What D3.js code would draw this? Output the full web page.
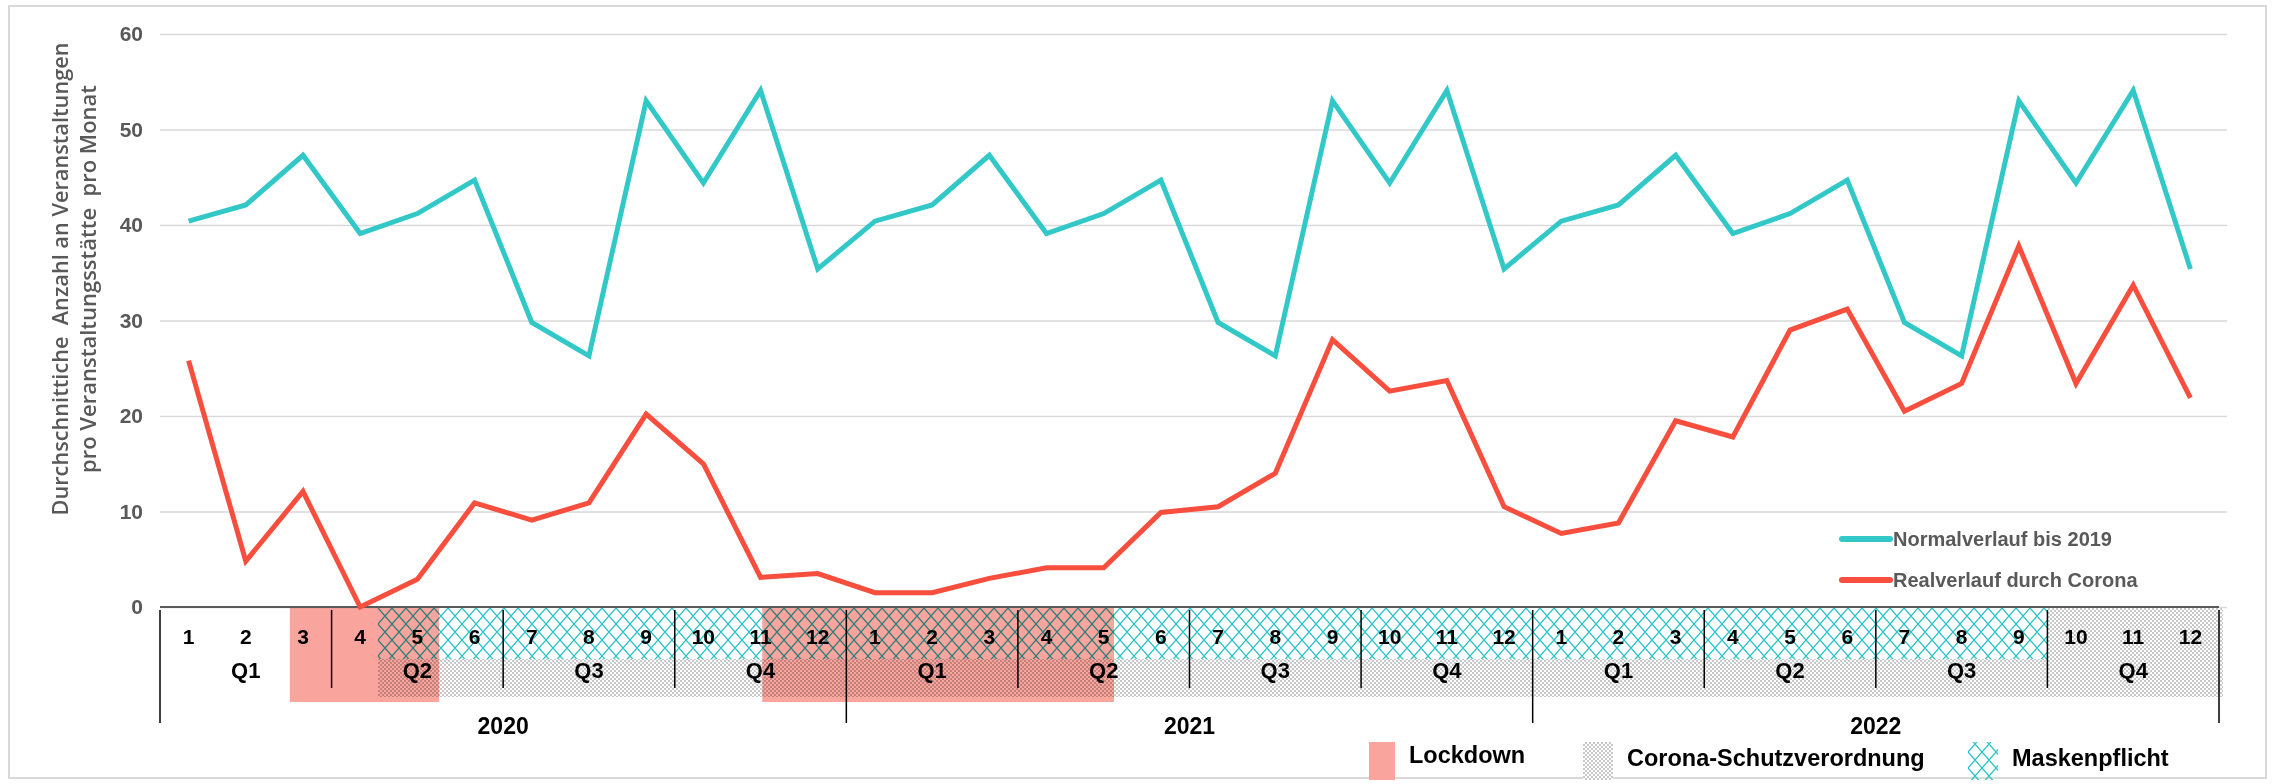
<!DOCTYPE html>
<head>
  <meta charset="utf-8">
  <script src="https://d3js.org/d3.v7.min.js"></script>
  <style>
    body { margin: 0; background: #fff; }
    text {
      font-family: "Liberation Sans", Arial, sans-serif;
      font-weight: bold;
    }
  </style>
</head>

<body>
  <script>
  // monthly values, Jan 2020 .. Dec 2022
  var normalverlauf = [40.4, 42.1, 47.3, 39.1, 41.2, 44.7, 29.8, 26.3, 53.0, 44.4, 54.1, 35.4,
                       40.4, 42.1, 47.3, 39.1, 41.2, 44.7, 29.8, 26.3, 53.0, 44.4, 54.1, 35.4,
                       40.4, 42.1, 47.3, 39.1, 41.2, 44.7, 29.8, 26.3, 53.0, 44.4, 54.1, 35.4];
  var realverlauf = [25.8, 4.8, 12.1, 0, 2.9, 10.9, 9.1, 10.9, 20.2, 15.0, 3.1, 3.5,
                     1.5, 1.5, 3.0, 4.1, 4.1, 9.9, 10.5, 14.0, 28.0, 22.6, 23.7, 10.5,
                     7.7, 8.8, 19.5, 17.8, 29.0, 31.2, 20.5, 23.4, 37.8, 23.4, 33.7, 21.9];

  var monthLabels = ["1", "2", "3", "4", "5", "6", "7", "8", "9", "10", "11", "12"];
  var quarterLabels = ["Q1", "Q2", "Q3", "Q4"];
  var yearLabels = ["2020", "2021", "2022"];

  // periods in month units from Jan 2020 (start, end)
  var lockdown = [[2.27, 4.88], [10.53, 16.68]];
  var schutzverordnung = [[3.81, 36.07]];
  var maskenpflicht = [[3.81, 33]];

  var seriesNames = ["Normalverlauf bis 2019", "Realverlauf durch Corona"];
  var legendNames = ["Lockdown", "Corona-Schutzverordnung", "Maskenpflicht"];

  var teal = "#33c8c8", red = "#f74e3e", pink = "#f9a59e", hatchCol = "#2cc4c4";

  var width = 2275, height = 784;

  var svg = d3.select("body").append("svg")
      .attr("width", width)
      .attr("height", height);

  svg.append("rect")
      .attr("x", 9).attr("y", 6)
      .attr("width", 2257).attr("height", 772)
      .attr("fill", "none")
      .attr("stroke", "#d9d9d9")
      .attr("stroke-width", 2);

  var defs = svg.append("defs");

  var dots = defs.append("pattern")
      .attr("id", "dots")
      .attr("patternUnits", "userSpaceOnUse")
      .attr("width", 4).attr("height", 4);
  dots.append("rect").attr("width", 4).attr("height", 4).attr("fill", "#fff");
  dots.append("rect").attr("width", 2).attr("height", 2).attr("fill", "#c8c8c8");
  dots.append("rect").attr("x", 2).attr("y", 2).attr("width", 2).attr("height", 2).attr("fill", "#c8c8c8");

  var hatch = defs.append("pattern")
      .attr("id", "hatch")
      .attr("patternUnits", "userSpaceOnUse")
      .attr("width", 14).attr("height", 16);
  hatch.append("path")
      .attr("d", "M-1,-1.14L15,17.14M15,-1.14L-1,17.14")
      .attr("stroke", hatchCol)
      .attr("stroke-width", 1.3)
      .attr("fill", "none");

  var x = d3.scaleLinear()
      .domain([0, 36])
      .range([160, 2219]);

  var y = d3.scaleLinear()
      .domain([0, 60])
      .range([607, 34]);

  // grid + y labels
  var yAxis = svg.append("g")
      .attr("transform", "translate(160,0)")
      .call(d3.axisLeft(y).ticks(6).tickSize(-2067).tickPadding(17));
  yAxis.select(".domain").remove();
  yAxis.selectAll(".tick line")
      .attr("stroke", "#d9d9d9")
      .attr("stroke-width", 1.5);
  yAxis.selectAll(".tick text")
      .attr("fill", "#595959")
      .attr("font-size", 21)
      .attr("font-family", "Liberation Sans, Arial, sans-serif")
      .attr("font-weight", "bold");

  // table below the axis
  var tableTop = 608, monthBottom = 659, greyBottom = 697, lockBottom = 702;
  var table = svg.append("g");

  table.selectAll(".schutz")
      .data(schutzverordnung)
      .enter().append("rect")
      .attr("x", function(d) { return x(d[0]); })
      .attr("y", tableTop)
      .attr("width", function(d) { return x(d[1]) - x(d[0]); })
      .attr("height", greyBottom - tableTop)
      .attr("fill", "url(#dots)");

  table.selectAll(".maskbg")
      .data(maskenpflicht)
      .enter().append("rect")
      .attr("x", function(d) { return x(d[0]); })
      .attr("y", tableTop)
      .attr("width", function(d) { return x(d[1]) - x(d[0]); })
      .attr("height", monthBottom - tableTop)
      .attr("fill", "#fff");

  table.selectAll(".mask")
      .data(maskenpflicht)
      .enter().append("rect")
      .attr("x", function(d) { return x(d[0]); })
      .attr("y", tableTop)
      .attr("width", function(d) { return x(d[1]) - x(d[0]); })
      .attr("height", monthBottom - tableTop)
      .attr("fill", "url(#hatch)");

  table.selectAll(".lock")
      .data(lockdown)
      .enter().append("rect")
      .attr("x", function(d) { return x(d[0]); })
      .attr("y", tableTop)
      .attr("width", function(d) { return x(d[1]) - x(d[0]); })
      .attr("height", lockBottom - tableTop)
      .attr("fill", pink)
      .style("mix-blend-mode", "multiply");

  // separators
  var bounds = d3.range(0, 37, 3);
  svg.selectAll(".sep")
      .data(bounds)
      .enter().append("line")
      .attr("x1", function(d) { return x(d); })
      .attr("x2", function(d) { return x(d); })
      .attr("y1", 610)
      .attr("y2", function(d) { return d % 12 == 0 ? 723 : 688; })
      .attr("stroke", "#000")
      .attr("stroke-width", 1.5);

  // month / quarter / year labels
  var allMonths = [];
  yearLabels.forEach(function(yr) { monthLabels.forEach(function(m) { allMonths.push(m); }); });

  svg.selectAll(".month")
      .data(allMonths)
      .enter().append("text")
      .attr("x", function(d, i) { return x(i + 0.5); })
      .attr("y", 636)
      .attr("dy", "0.36em")
      .attr("text-anchor", "middle")
      .attr("font-size", 21)
      .text(function(d) { return d; });

  var allQuarters = [];
  yearLabels.forEach(function(yr, yi) {
    quarterLabels.forEach(function(q, qi) { allQuarters.push({label: q, pos: yi * 12 + qi * 3 + 1.5}); });
  });

  svg.selectAll(".quarter")
      .data(allQuarters)
      .enter().append("text")
      .attr("x", function(d) { return x(d.pos); })
      .attr("y", 670)
      .attr("dy", "0.36em")
      .attr("text-anchor", "middle")
      .attr("font-size", 22)
      .text(function(d) { return d.label; });

  svg.selectAll(".year")
      .data(yearLabels)
      .enter().append("text")
      .attr("x", function(d, i) { return x(i * 12 + 6); })
      .attr("y", 726)
      .attr("dy", "0.36em")
      .attr("text-anchor", "middle")
      .attr("font-size", 23)
      .text(function(d) { return d; });

  // zero axis line
  svg.append("line")
      .attr("x1", x(0)).attr("x2", x(36))
      .attr("y1", y(0)).attr("y2", y(0))
      .attr("stroke", "#595959")
      .attr("stroke-width", 2);

  // series
  var line = d3.line()
      .x(function(d, i) { return x(i + 0.5); })
      .y(function(d) { return y(d); });

  svg.append("path")
      .datum(normalverlauf)
      .attr("fill", "none")
      .attr("stroke", teal)
      .attr("stroke-width", 5)
      .attr("d", line);

  svg.append("path")
      .datum(realverlauf)
      .attr("fill", "none")
      .attr("stroke", red)
      .attr("stroke-width", 5)
      .attr("d", line);

  // y title (two lines, double spaces kept)
  var title = svg.append("g")
      .attr("transform", "translate(0,279) rotate(-90)")
      .attr("text-anchor", "middle")
      .attr("fill", "#595959");
  title.append("text")
      .attr("x", 0).attr("y", 68)
      .attr("textLength", 473)
      .attr("lengthAdjust", "spacingAndGlyphs")
      .style("white-space", "pre")
      .style("font-family", "'Open Sans', sans-serif")
      .style("font-weight", 600)
      .style("font-size", "21px")
      .text("Durchschnittiche  Anzahl an Veranstaltungen");
  title.append("text")
      .attr("x", 0).attr("y", 96)
      .attr("textLength", 388)
      .attr("lengthAdjust", "spacingAndGlyphs")
      .style("white-space", "pre")
      .style("font-family", "'Open Sans', sans-serif")
      .style("font-weight", 600)
      .style("font-size", "21px")
      .text("pro Veranstaltungsstätte  pro Monat");

  // series legend
  var lineLegend = svg.append("g")
      .selectAll("g")
      .data(seriesNames)
      .enter().append("g")
      .attr("transform", function(d, i) { return "translate(1842," + (539 + i * 41) + ")"; });
  lineLegend.append("line")
      .attr("x2", 48)
      .attr("stroke", function(d, i) { return i == 0 ? teal : red; })
      .attr("stroke-width", 6)
      .attr("stroke-linecap", "round");
  lineLegend.append("text")
      .attr("x", 51)
      .attr("dy", "0.35em")
      .attr("fill", "#595959")
      .attr("font-size", 20)
      .text(function(d) { return d; });

  // period legend
  var legendX = [1369, 1583, 1968];
  var legendW = [26, 30, 30];
  var legendFill = [pink, "url(#dots)", "url(#hatch)"];
  var periodLegend = svg.append("g")
      .selectAll("g")
      .data(legendNames)
      .enter().append("g")
      .attr("transform", function(d, i) { return "translate(" + legendX[i] + ",0)"; });
  periodLegend.append("rect")
      .attr("y", 742)
      .attr("width", function(d, i) { return legendW[i]; })
      .attr("height", 38)
      .attr("fill", function(d, i) { return legendFill[i]; });
  periodLegend.append("text")
      .attr("x", function(d, i) { return legendW[i] + 14; })
      .attr("y", function(d, i) { return i == 0 ? 755 : 758; })
      .attr("dy", "0.36em")
      .attr("fill", "#000")
      .attr("font-size", 23.5)
      .text(function(d) { return d; });
  </script>
</body>
